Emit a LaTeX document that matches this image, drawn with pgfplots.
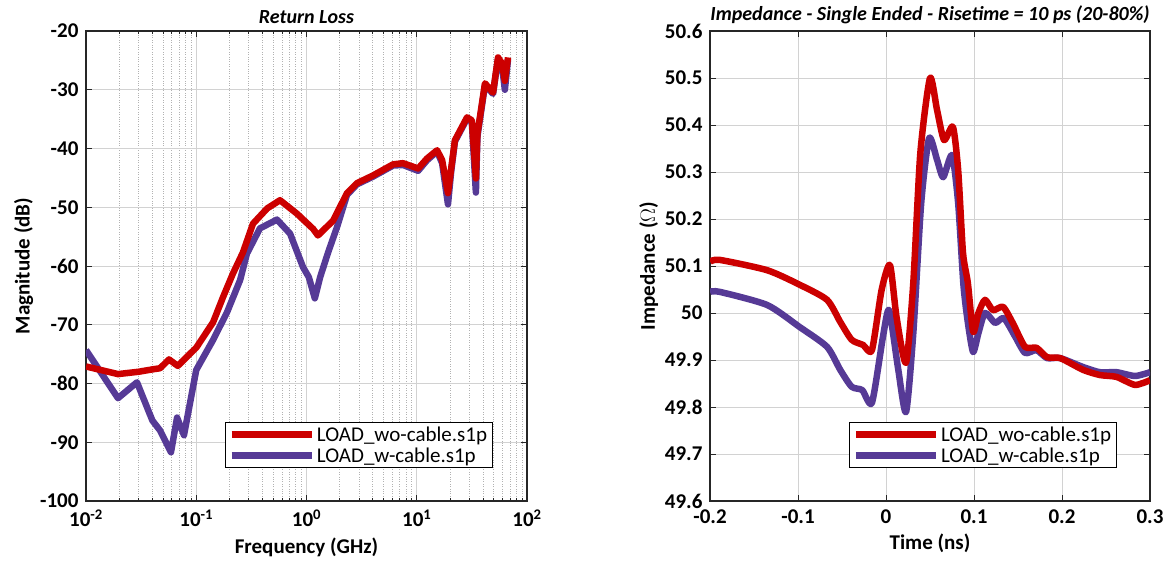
\documentclass[border=0pt]{standalone}
\usepackage{pgfplots}
\pgfplotsset{compat=1.18}
\usepackage{fontspec}
\setmainfont{Carlito}
\definecolor{myred}{RGB}{204,0,0}
\definecolor{mypurple}{RGB}{86,58,150}
\definecolor{axgray}{RGB}{38,38,38}
\newcommand{\fs}{\fontsize{21}{24}\selectfont}
\newcommand{\ft}{\fontsize{20}{23}\selectfont}
\pgfplotsset{
  myaxis/.style={
    anchor=south west, scale only axis,
    axis line style={axgray, line width=1.3pt},
    tick style={axgray, line width=0.8pt},
    tick align=inside, major tick length=6pt, minor tick length=3pt,
    /pgf/number format/assume math mode=true,
    tick label style={font=\fs\bfseries, text=black},
    yticklabel style={xshift=-4pt},
    xticklabel style={yshift=-5pt},
    label style={font=\fs\bfseries},
    title style={font=\ft\bfseries\itshape, yshift=-2pt},
    major grid style={gray!35, line width=0.8pt},
    minor grid style={gray!60, dotted, line width=0.8pt},
    legend style={font=\fs, draw=black, line width=1pt, inner xsep=3pt, inner ysep=2pt,
      row sep=1pt, cells={anchor=west}},
    legend cell align=left,
    reverse legend,
    legend image code/.code={\draw[#1] (0pt,0pt) -- (80pt,0pt);},
  },
  bl/.style={mypurple, line width=6.5pt, line join=round},
  rd/.style={myred, line width=6.5pt, line join=round},
}
\begin{document}
\begin{tikzpicture}
\path[use as bounding box] (0pt,0pt) rectangle (1170pt,567pt);
\begin{axis}[myaxis,
  at={(86pt,66pt)}, width=441pt, height=470pt,
  xmode=log, xmin=0.01, xmax=100, ymin=-100, ymax=-20,
  ytick={-100,-90,...,-20},
  xtick={0.01,0.1,1,10,100},
  xticklabels={10\textsuperscript{-2},10\textsuperscript{-1},10\textsuperscript{0},10\textsuperscript{1},10\textsuperscript{2}},
  xmajorgrids, ymajorgrids, xminorgrids,
  xlabel={Frequency (GHz)}, ylabel={Magnitude (dB)},
  xlabel style={yshift=-4pt}, ylabel style={yshift=0pt},
  title={Return Loss},
  legend style={at={(0.315,0.168)}, anchor=north west},
]
\addplot[bl] coordinates {
(0.01,-74.3) (0.0195,-82.5) (0.029,-79.8) (0.04,-86.3) (0.047,-88.0) (0.059,-91.7)
(0.067,-85.8) (0.0774,-88.8) (0.1,-77.7) (0.142,-72.6) (0.19,-67.9) (0.25,-62.4)
(0.288,-57.9) (0.378,-53.6) (0.54,-52.1) (0.71,-54.5) (0.93,-60.2) (1.05,-61.9)
(1.19,-65.5) (1.33,-61.9) (1.57,-57.7) (1.89,-53.4) (2.33,-47.9) (2.87,-46.1)
(4.0,-44.8) (6.1,-42.9) (7.5,-42.8) (10.3,-43.8) (12.4,-42.0) (15.3,-40.5)
(17,-42.5) (19.2,-49.5) (20.5,-44) (22.2,-38.8) (28.6,-34.9) (31.6,-35.5)
(34.4,-47.5) (35.5,-38) (41.6,-29.2) (49.2,-30.7) (54.6,-24.8) (59.3,-25.8)
(63,-30.0) (67.3,-24.8)
};
\addlegendentry{LOAD\_w-cable.s1p}
\addplot[rd] coordinates {
(0.01,-77.1) (0.0195,-78.4) (0.03,-78.0) (0.04,-77.6) (0.047,-77.4) (0.0566,-75.9)
(0.068,-77.0) (0.1,-73.9) (0.142,-69.6) (0.175,-65.3) (0.215,-61.3) (0.265,-57.7)
(0.327,-52.8) (0.44,-50.2) (0.575,-48.8) (0.82,-51.1) (1.15,-53.7) (1.27,-54.8)
(1.74,-52.3) (2.33,-47.6) (2.87,-45.9) (4.0,-44.6) (6.1,-42.7) (7.5,-42.5)
(10.3,-43.4) (12.4,-41.7) (15.3,-40.3) (17,-42) (19.2,-47.6) (20.5,-43.5)
(22.2,-38.6) (28.6,-34.7) (31.6,-35.2) (34.4,-45.1) (35.5,-37.5) (41.6,-28.9)
(49.2,-30.5) (54.6,-24.5) (59.3,-25.5) (63,-28.5) (67.3,-24.5)
};
\addlegendentry{LOAD\_wo-cable.s1p}
\end{axis}
\begin{axis}[myaxis,
  at={(710pt,66pt)}, width=440pt, height=470pt,
  xmin=-0.2, xmax=0.3, ymin=49.6, ymax=50.6,
  xtick={-0.2,-0.1,...,0.31}, ytick={49.6,49.7,...,50.61},
  scaled ticks=false,
  xticklabel style={/pgf/number format/.cd, fixed, precision=1},
  yticklabel style={/pgf/number format/.cd, fixed, precision=1},
  xmajorgrids, ymajorgrids,
  xlabel={Time (ns)}, ylabel={Impedance ($\Omega$)},
  xlabel style={yshift=-4pt},
  title={Impedance - Single Ended - Risetime = 10 ps (20-80\%)},
  legend style={at={(0.316,0.168)}, anchor=north west},
]
\addplot[bl, smooth, tension=0.4] coordinates {
(-0.2,50.045) (-0.189,50.045) (-0.135,50.017) (-0.098,49.97) (-0.067,49.928)
(-0.052,49.879) (-0.039,49.843) (-0.027,49.836) (-0.016,49.809) (-0.0035,49.949)
(0.0035,50.006) (0.0135,49.885) (0.0227,49.789) (0.031,49.957) (0.04,50.234)
(0.049,50.372) (0.058,50.326) (0.065,50.289) (0.075,50.336) (0.082,50.234)
(0.088,50.06) (0.093,49.98) (0.099,49.917) (0.105,49.957) (0.1125,50.0)
(0.124,49.979) (0.134,49.989) (0.147,49.949) (0.158,49.915) (0.171,49.921)
(0.183,49.904) (0.198,49.904) (0.224,49.885) (0.243,49.874) (0.262,49.874)
(0.283,49.866) (0.3,49.874)
};
\addlegendentry{LOAD\_w-cable.s1p}
\addplot[rd, smooth, tension=0.4] coordinates {
(-0.2,50.109) (-0.189,50.113) (-0.135,50.091) (-0.098,50.06) (-0.067,50.028)
(-0.052,49.981) (-0.039,49.943) (-0.026,49.932) (-0.016,49.921) (-0.005,50.049)
(0.0045,50.102) (0.012,49.991) (0.0227,49.894) (0.031,50.064) (0.039,50.34)
(0.05,50.5) (0.058,50.432) (0.066,50.368) (0.076,50.396) (0.082,50.304)
(0.0875,50.128) (0.093,50.064) (0.099,49.96) (0.105,50.0) (0.1125,50.028)
(0.1215,50.006) (0.133,50.013) (0.144,49.979) (0.158,49.928) (0.171,49.926)
(0.183,49.906) (0.198,49.904) (0.224,49.879) (0.243,49.868) (0.262,49.864)
(0.283,49.847) (0.3,49.857)
};
\addlegendentry{LOAD\_wo-cable.s1p}
\end{axis}
\end{tikzpicture}
\end{document}
